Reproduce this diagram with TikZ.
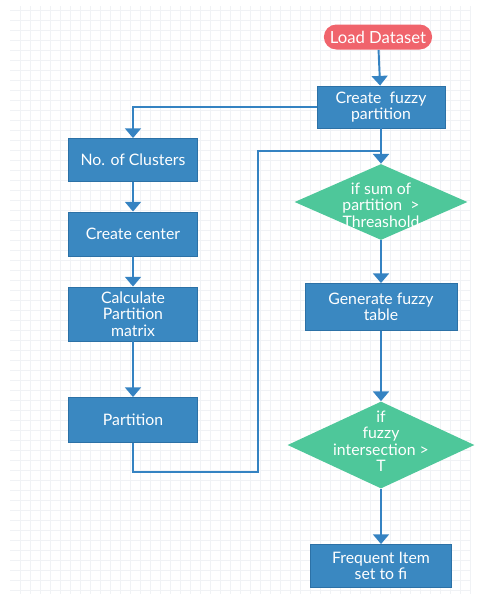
\documentclass[tikz,border=0pt]{standalone}
\usepackage{fontspec}
\setmainfont{Lato}
\usepackage{tikz}
\usetikzlibrary{arrows.meta,shapes.geometric,shapes.misc}
\definecolor{FlowBlue}{HTML}{3A88C1}
\definecolor{FlowEdge}{HTML}{2C71A6}
\definecolor{FlowLine}{HTML}{3583C2}
\definecolor{FlowGreen}{HTML}{4EC79A}
\definecolor{FlowRed}{HTML}{F0646C}
\definecolor{FlowGrid}{HTML}{F0F2F5}
\newcommand{\dtext}[2][0pt]{\makebox[0pt]{\smash{\raisebox{#1}{\begin{tabular}{@{}c@{}}#2\end{tabular}}}}}
\tikzset{
  block/.style={draw=FlowEdge,fill=FlowBlue,text=white,align=center,inner sep=1pt,
    line width=0.5pt,font=\fontsize{9}{9.4}\selectfont},
  terminal/.style={rounded rectangle,draw=none,fill=FlowRed,text=white,
    minimum width=2.4cm,minimum height=0.5cm,font=\fontsize{9.5}{10}\selectfont},
  decision/.style={diamond,draw=none,fill=FlowGreen,text=white,inner sep=0pt,
    font=\fontsize{9}{9.4}\selectfont},
  flow/.style={-{Triangle[width=9pt,length=5.5pt]},line width=1.1pt,draw=FlowLine},
  mainflow/.style={flow,line width=1.7pt},
  link/.style={line width=1.1pt,draw=FlowLine}
}

\begin{document}
\begin{tikzpicture}[x=0.02cm,y=-0.02cm]
  \useasboundingbox (0,0) rectangle (480,599);
  \draw[FlowGrid,step=0.2cm,line width=0.3pt] (10,6) grid (470,594);
  % right column
  \node[terminal] (load) at (378,37) {Load Dataset};
  \node[block,minimum width=2.56cm,minimum height=0.84cm] (fuzzy) at (381,107) {Create\ \ fuzzy\\partition};
  \node[decision,minimum width=3.46cm,minimum height=1.52cm] (sum) at (381,202)
    {\dtext[-5.5pt]{if sum of\\partition\ \ >\\Threashold}};
  \node[block,minimum width=3.04cm,minimum height=0.94cm] (table) at (381,307) {Generate fuzzy\\table};
  \node[decision,minimum width=3.74cm,minimum height=1.74cm] (inter) at (381,445)
    {\dtext[-1.5pt]{if\\fuzzy\\intersection >\\T}};
  \node[block,minimum width=2.82cm,minimum height=0.86cm] (freq) at (381,566) {Frequent Item\\set to fi};
  % left column
  \node[block,minimum width=2.58cm,minimum height=0.86cm] (clusters) at (133,160) {No. of Clusters};
  \node[block,minimum width=2.58cm,minimum height=0.88cm] (center) at (133,234) {Create center};
  \node[block,minimum width=2.58cm,minimum height=1.08cm] (calc) at (133,314) {Calculate\\Partition\\matrix};
  \node[block,minimum width=2.58cm,minimum height=0.9cm] (part) at (133,420) {Partition};
  \coordinate (lb) at (258,472);
  \coordinate (lt) at (258,151);
  \draw[flow] (load) -- (fuzzy);
  \draw[flow] (fuzzy.west) -| (clusters.north);
  \draw[flow] (clusters) -- (center);
  \draw[flow] (center) -- (calc);
  \draw[flow] (calc) -- (part);
  \draw[link] (part.south) |- (lb) -- (lt) -- (lt -| sum.north);
  \draw[mainflow] (fuzzy) -- (sum);
  \draw[mainflow] (sum) -- (table);
  \draw[flow] (table) -- (inter);
  \draw[flow] (inter) -- (freq);
\end{tikzpicture}
\end{document}
